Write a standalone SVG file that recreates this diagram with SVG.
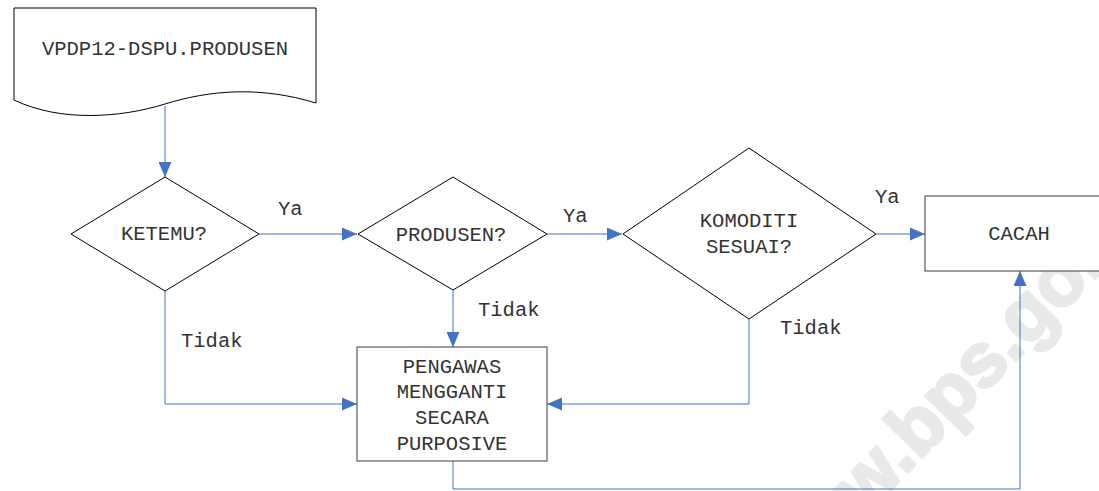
<svg xmlns="http://www.w3.org/2000/svg" width="1099" height="491" viewBox="0 0 1099 491">
  <style>
    .shape { fill: #ffffff; stroke: #000000; stroke-width: 1; }
    .box { fill: #ffffff; stroke: #3a3a3a; stroke-width: 1; }
    .lbl { font-family: "Courier New", "Liberation Mono", monospace; font-size: 20.5px; fill: #333333; }
    .mid { text-anchor: middle; }
    .wire { fill: none; stroke: #4472c4; stroke-width: 1; }
    .mark { font-family: "Liberation Sans", Arial, sans-serif; font-weight: bold; font-size: 76px; fill: #e9e9e9; stroke: #e9e9e9; stroke-width: 3; stroke-linejoin: round; }
  </style>
  <defs>
    <marker id="arrow" viewBox="0 0 15 13" refX="15" refY="6.5" markerWidth="15" markerHeight="13" markerUnits="userSpaceOnUse" orient="auto">
      <path d="M0,0 L15,6.5 L0,13 Z" fill="#4472c4"/>
    </marker>
  </defs>
  <rect width="1099" height="491" fill="#ffffff"/>

  <!-- background watermark -->
  <text class="mark" text-anchor="middle" transform="translate(968,410) rotate(-46)">www.bps.go.id</text>

  <!-- connectors -->
  <g id="connectors">
    <path class="wire" d="M165,106 V177" marker-end="url(#arrow)"/>
    <path class="wire" d="M259,234 H357" marker-end="url(#arrow)"/>
    <path class="wire" d="M547,234 H622" marker-end="url(#arrow)"/>
    <path class="wire" d="M876,234 H925" marker-end="url(#arrow)"/>
    <path class="wire" d="M165,291 V404 H357" marker-end="url(#arrow)"/>
    <path class="wire" d="M453,290 V347" marker-end="url(#arrow)"/>
    <path class="wire" d="M749,319 V404 H547" marker-end="url(#arrow)"/>
    <path class="wire" d="M453,461 V489 H1020 V271" marker-end="url(#arrow)"/>
    <text class="lbl" x="278" y="215">Ya</text>
    <text class="lbl" x="563" y="222">Ya</text>
    <text class="lbl" x="875" y="203">Ya</text>
    <text class="lbl" x="181" y="347">Tidak</text>
    <text class="lbl" x="478" y="316">Tidak</text>
    <text class="lbl" x="780" y="334">Tidak</text>
  </g>

  <!-- source document -->
  <g id="node-dokumen">
    <path class="shape" d="M14,8 H316 V103 C260,86 210,90 165,104 C120,118 60,122 14,100 Z"/>
    <text class="lbl mid" x="165" y="55">VPDP12-DSPU.PRODUSEN</text>
  </g>

  <!-- decisions -->
  <g id="node-ketemu">
    <polygon class="shape" points="165,177 259,234 165,291 71,234"/>
    <text class="lbl mid" x="164" y="240">KETEMU?</text>
  </g>
  <g id="node-produsen">
    <polygon class="shape" points="453,177 547,234 453,290 358,234"/>
    <text class="lbl mid" x="451" y="241">PRODUSEN?</text>
  </g>
  <g id="node-komoditi">
    <polygon class="shape" points="749,148 876,234 749,319 623,234"/>
    <text class="lbl mid" x="749" y="227">KOMODITI</text>
    <text class="lbl mid" x="749" y="253">SESUAI?</text>
  </g>

  <!-- processes -->
  <g id="node-cacah">
    <rect class="box" x="925" y="196" width="200" height="75"/>
    <text class="lbl mid" x="1019" y="240">CACAH</text>
  </g>
  <g id="node-pengawas">
    <rect class="box" x="357" y="347" width="190" height="114"/>
    <text class="lbl mid" x="452" y="373">PENGAWAS</text>
    <text class="lbl mid" x="452" y="398">MENGGANTI</text>
    <text class="lbl mid" x="452" y="424">SECARA</text>
    <text class="lbl mid" x="452" y="450">PURPOSIVE</text>
  </g>
</svg>
